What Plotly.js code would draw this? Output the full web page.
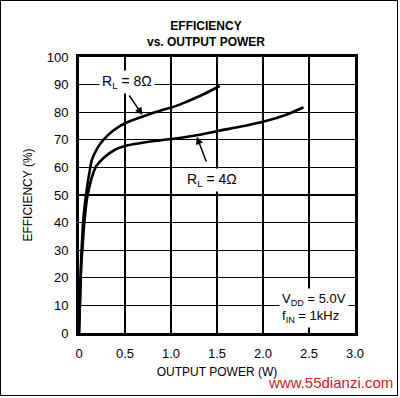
<!DOCTYPE html>
<html><head><meta charset="utf-8">
<script src="https://cdn.plot.ly/plotly-3.0.1.min.js"></script>
<style>
html,body{margin:0;padding:0;background:#fff;}
#chart{width:400px;height:398px;}
#frame{position:absolute;left:0;top:0;width:396px;height:394px;border:1.5px solid #000;pointer-events:none;}
</style></head>
<body>
<div id="chart"></div>
<div id="frame"></div>
<script>
// Data
const power8 = [0, 0.01, 0.025, 0.036, 0.044, 0.076, 0.12, 0.14, 0.2, 0.265, 0.37, 0.5, 0.74, 0.88, 1.05, 1.17, 1.36, 1.53];
const eff8   = [0, 12, 28, 35, 40, 50, 59.5, 62.7, 67, 70, 73.3, 76, 79, 80.5, 82.2, 83.8, 86.6, 89.5];
const power4 = [0, 0.01, 0.025, 0.036, 0.058, 0.094, 0.18, 0.27, 0.39, 0.53, 0.7, 0.88, 1.05, 1.25, 1.51, 1.79, 2.01, 2.26, 2.44];
const eff4   = [0, 10, 25, 30, 40, 50, 60, 63.5, 66.4, 68, 69, 69.8, 70.5, 71.5, 73.2, 75, 76.6, 79.2, 81.8];
const xTicks = [0, 0.5, 1.0, 1.5, 2.0, 2.5, 3.0];
const xTickText = ['0', '0.5', '1.0', '1.5', '2.0', '2.5', '3.0'];
const yTicks = [0, 10, 20, 30, 40, 50, 60, 70, 80, 90, 100];

const lab = '"Liberation Sans Narrow", "Liberation Sans", Arial, sans-serif';
const bold = '"Liberation Sans", Arial, sans-serif';

const traces = [
  {x: power8, y: eff8, mode: 'lines', line: {color: '#000', width: 2.6, shape: 'spline', smoothing: 0.9}, hoverinfo: 'skip'},
  {x: power4, y: eff4, mode: 'lines', line: {color: '#000', width: 2.6, shape: 'spline', smoothing: 0.9}, hoverinfo: 'skip'}
];

const layout = {
  width: 400, height: 398,
  margin: {l: 79, r: 45, t: 57, b: 65},
  paper_bgcolor: '#fff', plot_bgcolor: '#fff',
  showlegend: false,
  title: {text: '<b>EFFICIENCY<br>vs. OUTPUT POWER</b>', font: {family: bold, size: 12, color: '#000'},
          x: 0.515, xanchor: 'center', y: 0.924, yanchor: 'top'},
  xaxis: {
    range: [0, 3], tickvals: xTicks, ticktext: xTickText, ticks: '',
    showgrid: true, gridcolor: '#000', gridwidth: 1.8, zeroline: false,
    showline: true, linecolor: '#000', linewidth: 3, mirror: true,
    tickfont: {family: lab, size: 13, color: '#000'}, ticklabelstandoff: 6,
    title: {text: 'OUTPUT POWER (W)', font: {family: bold, size: 12, color: '#000'}, standoff: 9}
  },
  yaxis: {
    range: [0, 100], tickvals: yTicks, ticks: '',
    showgrid: true, gridcolor: '#000', gridwidth: 1.2, zeroline: false,
    showline: true, linecolor: '#000', linewidth: 3, mirror: true,
    tickfont: {family: lab, size: 13, color: '#000'}, ticklabelstandoff: 5,
    title: {text: 'EFFICIENCY (%)', font: {family: bold, size: 12, color: '#000'}, standoff: 12}
  },
  annotations: [
    {x: 0.52, y: 91, xref: 'x', yref: 'y', text: 'R<sub>L</sub> = 8Ω', showarrow: false,
     font: {family: lab, size: 14, color: '#000'}, bgcolor: '#fff', borderpad: 2},
    {x: 0.69, y: 79, xref: 'x', yref: 'y', ax: 0.535, ay: 86.6, axref: 'x', ayref: 'y', text: '',
     showarrow: true, arrowhead: 2, arrowsize: 1, arrowwidth: 1.5, arrowcolor: '#000'},
    {x: 1.45, y: 55.4, xref: 'x', yref: 'y', text: 'R<sub>L</sub> = 4Ω', showarrow: false,
     font: {family: lab, size: 14, color: '#000'}, bgcolor: '#fff', borderpad: 2},
    {x: 1.28, y: 71.1, xref: 'x', yref: 'y', ax: 1.39, ay: 61.6, axref: 'x', ayref: 'y', text: '',
     showarrow: true, arrowhead: 2, arrowsize: 1, arrowwidth: 1.5, arrowcolor: '#000'},
    {x: 2.55, y: 9, xref: 'x', yref: 'y', text: 'V<sub>DD</sub> = 5.0V<br>f<sub>IN</sub> = 1kHz', align: 'left',
     showarrow: false, font: {family: lab, size: 13, color: '#000'}, bgcolor: '#fff', borderpad: 2},
    {x: 1.145, y: -0.181, xref: 'paper', yref: 'paper', xanchor: 'right', yanchor: 'middle',
     text: 'www.55dianzi.com', showarrow: false, font: {family: bold, size: 15, color: '#cc1a2a'}}
  ]
};

Plotly.newPlot('chart', traces, layout, {displayModeBar: false, staticPlot: true});
</script>
</body></html>
